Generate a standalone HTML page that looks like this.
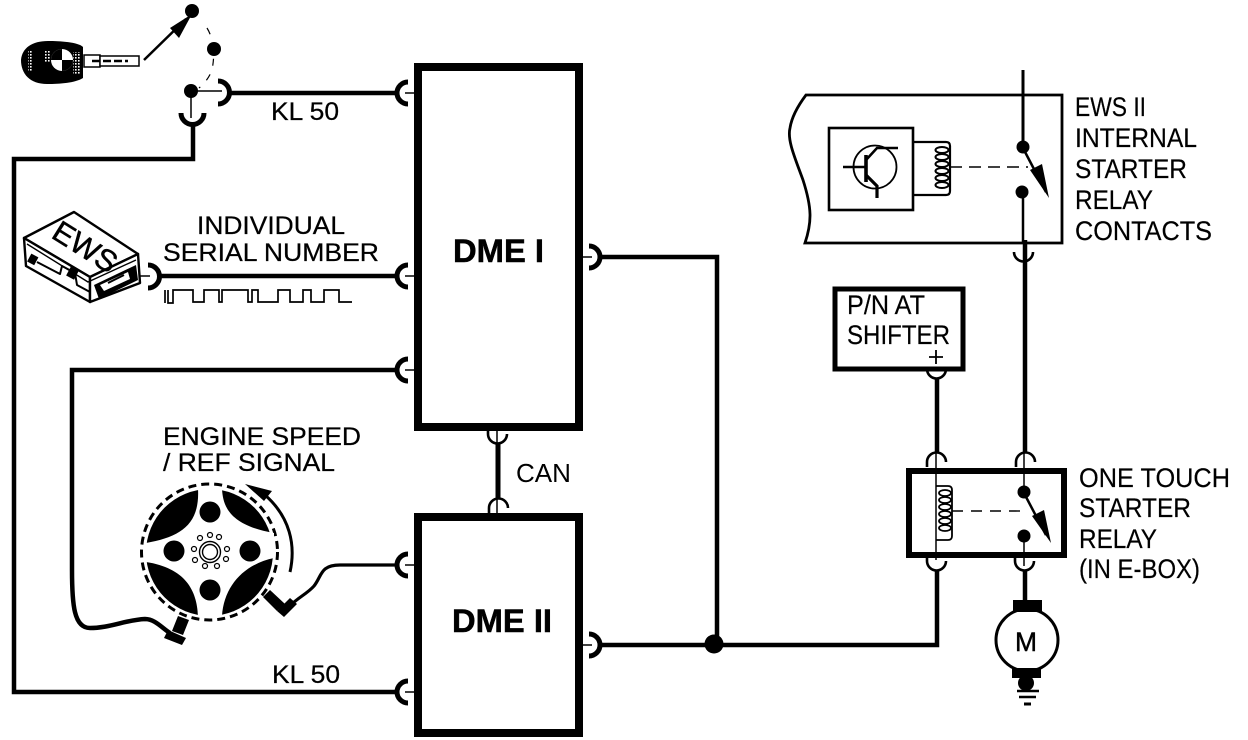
<!DOCTYPE html>
<html><head><meta charset="utf-8"><style>
html,body{margin:0;padding:0;background:#fff}
svg{display:block}
text{font-family:"Liberation Sans",sans-serif;fill:#000}
</style></head><body>
<svg width="1248" height="740" viewBox="0 0 1248 740" xmlns="http://www.w3.org/2000/svg">
<defs>
<pattern id="d" width="3" height="3" patternUnits="userSpaceOnUse"><rect width="3" height="3" fill="#000"/><rect width="1.6" height="1.6" fill="#fff"/></pattern>
</defs>
<rect width="1248" height="740" fill="#fff"/>
<g fill="none" stroke="#000" stroke-linecap="butt" stroke-linejoin="miter">
<!-- DME boxes -->
<rect x="418" y="67" width="161" height="360" stroke-width="8"/>
<rect x="418" y="517" width="161" height="216" stroke-width="8"/>
<!-- wires -->
<g stroke-width="4.5">
<path d="M229 93H398"/>
<path d="M193 124V159H14V692H398"/>
<path d="M158 276H398"/>
<path d="M398 370H72V570C72 605 74 628 90 628C110 628 125 620 145 619C155 619 162 628 170 633"/>
<path d="M498 443V499" stroke-width="5"/>
<path d="M599 257H717V643"/>
<path d="M600 645H937V570"/>
<path d="M937 378V453"/>
<path d="M1025 240V453"/>
<path d="M1025 570V606"/>
</g>
<path d="M398 565H340C320 565 322 576 314 586C307 594 297 598 290 606" stroke-width="3.2"/>
<!-- connectors -->
<g stroke-width="5">
<path d="M408 82A11 11 0 0 0 408 104"/>
<path d="M408 265A11 11 0 0 0 408 287"/>
<path d="M408 359A11 11 0 0 0 408 381"/>
<path d="M408 554A11 11 0 0 0 408 576"/>
<path d="M408 681A11 11 0 0 0 408 703"/>
<path d="M589 246A11 11 0 0 1 589 268"/>
<path d="M589 634A11 11 0 0 1 589 656"/>
<path d="M218 81A11.5 11.5 0 0 1 218 104"/>
<path d="M181 113A11.5 11.5 0 0 0 204 113"/>
<path d="M148 265A11.5 11.5 0 0 1 148 288"/>
</g>
<g stroke-width="2.6">
<path d="M488 430V434A9.5 9.5 0 0 0 507 434"/>
<path d="M489 513V508A9.5 9.5 0 0 1 508 508"/>
<path d="M1014 252A9.5 9.5 0 0 0 1033 252"/>
<path d="M927 369A9.5 9.5 0 0 0 946 369"/>
<path d="M927 467V462A9.5 9.5 0 0 1 946 462"/>
<path d="M1016 467V462A9.5 9.5 0 0 1 1035 462"/>
<path d="M927 556V561A9.5 9.5 0 0 0 946 561"/>
<path d="M1015 556V561A9.5 9.5 0 0 0 1034 561"/>
</g>
<g stroke-width="1.5">
<path d="M405 93H415M405 276H415M405 370H415M405 565H415M405 692H415"/>
<path d="M583 257H592M583 645H592"/>
<path d="M497 431V443M497 499V513"/>
<path d="M191 91H222M191 91V118"/>
<path d="M138 276H150"/>
<path d="M936 452V560M1024 452V492M1024 536V566"/>
</g>
<!-- key switch -->
<path d="M144 60L186 19" stroke-width="2.5"/>
<path d="M207 28C212 36 216 50 212 70C209 78 204 84 199 88" stroke-width="1.2" stroke-dasharray="7 9"/>
<!-- square wave -->
<path d="M165 290V303M168 290V303H173V290H193V302H204V290H219V302H222V290H248V302H252V290H258V302H278V290H290V302H303V290H311V302H324V290H339V302H352" stroke-width="1.7"/>
<!-- EWS II box -->
<path d="M806 95H1062V243H805C812 222 812 208 803 180C795 158 787 140 790 128C792 115 800 103 806 95Z" stroke-width="2.8"/>
<rect x="829" y="128" width="84" height="82" stroke-width="2.6"/>
<circle cx="875" cy="167" r="21.5" stroke-width="1.8"/>
<path d="M843 167H866" stroke-width="2.6"/>
<path d="M866 155V182" stroke-width="3.6"/>
<path d="M866 160L877 148H898" stroke-width="2.6"/>
<path d="M866 175L877 186V198" stroke-width="3.2"/>
<path d="M913 142H946Q950 142 950 146V191Q950 195 946 195H913" stroke-width="2.2"/>
<g stroke-width="2">
<ellipse cx="942" cy="150" rx="6.5" ry="3"/><ellipse cx="942" cy="157" rx="6.5" ry="3"/><ellipse cx="942" cy="164" rx="6.5" ry="3"/><ellipse cx="942" cy="171" rx="6.5" ry="3"/><ellipse cx="942" cy="178" rx="6.5" ry="3"/><ellipse cx="942" cy="185" rx="6.5" ry="3"/>
</g>
<path d="M950 167H1028" stroke-width="1.6" stroke-dasharray="12 7"/>
<path d="M1023 70V147" stroke-width="3"/>
<path d="M1023 192V243" stroke-width="2.5"/>
<path d="M1024 150L1046 192" stroke-width="2.5"/>
<!-- P/N box -->
<rect x="835" y="289" width="128" height="80" stroke-width="5"/>
<path d="M936 350V364M929 357H943" stroke-width="1.8"/>
<!-- relay -->
<rect x="909" y="471" width="155" height="84" stroke-width="6"/>
<path d="M936 486H948Q952 486 952 490V536Q952 540 948 540H936" stroke-width="1.8"/>
<g stroke-width="1.8">
<ellipse cx="945" cy="493" rx="6" ry="3"/><ellipse cx="945" cy="500" rx="6" ry="3"/><ellipse cx="945" cy="507" rx="6" ry="3"/><ellipse cx="945" cy="514" rx="6" ry="3"/><ellipse cx="945" cy="521" rx="6" ry="3"/><ellipse cx="945" cy="528" rx="6" ry="3"/>
</g>
<path d="M952 511H1028" stroke-width="1.4" stroke-dasharray="11 8"/>
<path d="M1025 495L1046 535" stroke-width="2.5"/>
<!-- motor -->
<circle cx="1027" cy="640" r="31" stroke-width="3"/>
<path d="M1017 691H1039M1019 697H1036" stroke-width="2.4"/>
<path d="M1024 704H1031" stroke-width="3"/>
<!-- arrow on flywheel -->
<path d="M290 572C296 545 290 517 265 495" stroke-width="3"/>
<!-- flywheel dashes -->
<circle cx="209.5" cy="552" r="68" stroke-width="3" stroke-dasharray="8 5"/>
</g>
<g fill="#000">
<!-- key -->
<path d="M21 60C22 48 32 41 48 41C60 41 78 42 83 47V78C75 83 60 84 47 84C30 84 21 74 21 60Z"/>
<path d="M28 50H33V72H28ZM44 50H50V62H44ZM73 52H81V74H73Z" fill="url(#d)"/>
<path d="M84 55H100V67H84Z" fill="#fff" stroke="#000" stroke-width="1.5"/>
<path d="M100 56H139V66H100Z" fill="#fff" stroke="#000" stroke-width="1.5"/>
<path d="M92 61H128" stroke="#000" stroke-width="2.5" stroke-dasharray="8 3"/>
<circle cx="62" cy="60" r="11" fill="#fff"/>
<path d="M62 49A11 11 0 0 0 51 60H62ZM62 60V71A11 11 0 0 0 73 60Z"/>
<!-- dots -->
<circle cx="192" cy="11" r="7"/><circle cx="214" cy="49" r="7"/><circle cx="191" cy="91" r="7"/>
<path d="M192 14L179 38L170 28Z"/>
<circle cx="1023" cy="147" r="6.5"/><circle cx="1022" cy="192" r="6.5"/>
<path d="M1049 198L1030 170L1042 164Z"/>
<circle cx="1024" cy="492" r="6.5"/><circle cx="1024" cy="536" r="6.5"/>
<path d="M1051 543L1032 516L1044 510Z"/>
<circle cx="714" cy="644" r="9.5"/>
<!-- motor brushes + ground -->
<rect x="1013" y="600" width="29" height="12"/>
<rect x="1012" y="668" width="29" height="10"/>
<circle cx="1026" cy="683" r="8"/>
<!-- flywheel -->
<circle cx="209.5" cy="552.5" r="63.5"/>
<path d="M198 489H222C223 505 228 525 274 533V558C245 564 224 585 222 616H198C197 590 185 568 146 562V543C180 537 200 525 198 489Z" fill="#fff"/>
<circle cx="210" cy="512" r="10.5"/><circle cx="210" cy="590" r="10.5"/>
<circle cx="174" cy="551" r="10.5"/><circle cx="250" cy="551" r="10.5"/>
<path d="M245 484L272 491L264 501Z"/>
<!-- sensors -->
<path d="M178 616L189 620L183 635L172 631Z"/>
<path d="M168 630L186 638L182 645L164 638Z"/>
<path d="M263 597L270 590L285 604L277 611Z"/>
<path d="M277 611L290 598L297 604L284 617Z"/>
</g>
<g fill="none" stroke="#000" stroke-width="1.2">
<circle cx="210" cy="552" r="10.5" stroke-width="1.4"/><circle cx="210" cy="552" r="7.5" stroke-width="1.4"/>
<circle cx="210" cy="535" r="2.5"/><circle cx="219" cy="537" r="2.5"/><circle cx="227" cy="549" r="2.5"/><circle cx="226" cy="559" r="2.5"/><circle cx="217" cy="566" r="2.5"/><circle cx="205" cy="566" r="2.5"/><circle cx="195" cy="560" r="2.5"/><circle cx="194" cy="549" r="2.5"/><circle cx="200" cy="538" r="2.5"/>
</g>
<!-- EWS module -->
<g stroke="#000" fill="#fff" stroke-width="2.4" stroke-linejoin="round">
<path d="M24 238L74 212L138 254L90 277Z"/>
<path d="M24 238L26 266L90 302L90 277Z"/>
<path d="M90 277L138 254L140 283L90 302Z"/>
<path d="M27 244L88 282L136 260" fill="none" stroke-width="1.4"/>
<path d="M37 262L60 274L62 266L75 273L77 285L90 292" fill="none" stroke-width="2"/>
</g>
<g fill="#000">
<rect x="29" y="255" width="8" height="9" transform="rotate(28 33 259)"/>
<rect x="68" y="268" width="9" height="10" transform="rotate(28 72 273)"/>
<path d="M94 285L136 265L138 280L99 299Z"/>
<path d="M100 285L128 272L130 279L104 291Z" fill="#fff"/>
<path d="M108 283L124 275" stroke="#000" stroke-width="2"/>
</g>
<text font-size="30" stroke="#000" stroke-width=".5" transform="translate(50 237) rotate(32)" textLength="70" lengthAdjust="spacingAndGlyphs">EWS</text>
<!-- labels -->
<g font-size="25" stroke="#000" stroke-width=".25">
<text x="271" y="120" textLength="68" lengthAdjust="spacingAndGlyphs">KL 50</text>
<text x="272" y="683" textLength="68" lengthAdjust="spacingAndGlyphs">KL 50</text>
<text x="197" y="234" textLength="148" lengthAdjust="spacingAndGlyphs">INDIVIDUAL</text>
<text x="163" y="261" textLength="216" lengthAdjust="spacingAndGlyphs">SERIAL NUMBER</text>
<text x="163" y="445" textLength="198" lengthAdjust="spacingAndGlyphs">ENGINE SPEED</text>
<text x="163" y="471" textLength="172" lengthAdjust="spacingAndGlyphs">/ REF SIGNAL</text>
</g>
<text x="516" y="482" font-size="26" textLength="55" lengthAdjust="spacingAndGlyphs">CAN</text>
<g font-size="32" font-weight="bold" stroke="#000" stroke-width=".5">
<text x="453" y="262" textLength="91" lengthAdjust="spacingAndGlyphs">DME I</text>
<text x="452" y="632" textLength="100" lengthAdjust="spacingAndGlyphs">DME II</text>
</g>
<g font-size="27" stroke="#000" stroke-width=".2">
<text x="1075" y="116" textLength="71" lengthAdjust="spacingAndGlyphs">EWS II</text>
<text x="1075" y="147" textLength="122" lengthAdjust="spacingAndGlyphs">INTERNAL</text>
<text x="1075" y="178" textLength="112" lengthAdjust="spacingAndGlyphs">STARTER</text>
<text x="1075" y="209" textLength="78" lengthAdjust="spacingAndGlyphs">RELAY</text>
<text x="1075" y="240" textLength="137" lengthAdjust="spacingAndGlyphs">CONTACTS</text>
<text x="1079" y="487" textLength="151" lengthAdjust="spacingAndGlyphs">ONE TOUCH</text>
<text x="1079" y="517" textLength="112" lengthAdjust="spacingAndGlyphs">STARTER</text>
<text x="1079" y="548" textLength="78" lengthAdjust="spacingAndGlyphs">RELAY</text>
<text x="1079" y="578" textLength="121" lengthAdjust="spacingAndGlyphs">(IN E-BOX)</text>
<text x="847" y="314" textLength="78" lengthAdjust="spacingAndGlyphs">P/N AT</text>
<text x="847" y="344" textLength="103" lengthAdjust="spacingAndGlyphs">SHIFTER</text>
</g>
<text x="1015" y="651" font-size="27" stroke="#000" stroke-width=".5" textLength="22" lengthAdjust="spacingAndGlyphs">M</text>
</svg>
</body></html>
